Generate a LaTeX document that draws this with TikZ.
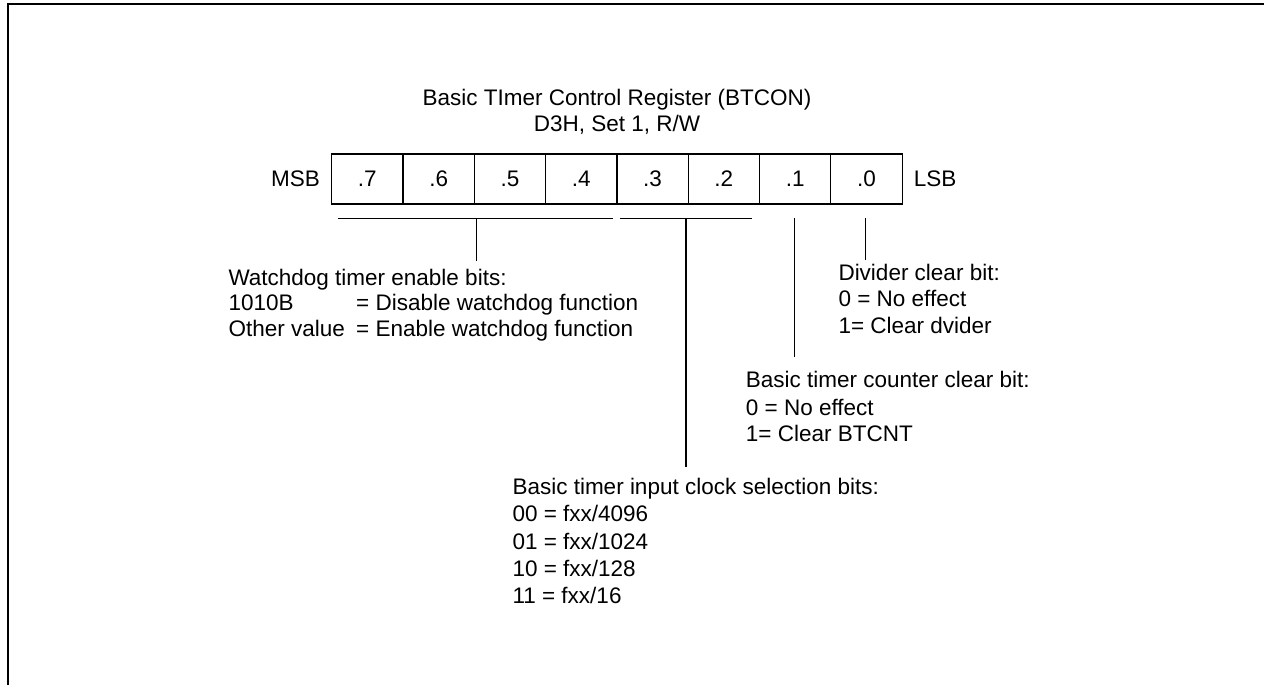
\documentclass[tikz,border=0pt]{standalone}
\usepackage{fontspec}
\setmainfont{Liberation Sans}
\newcommand\regfs{\fontsize{22.5}{27}\selectfont}
\begin{document}
\begin{tikzpicture}[x=1pt,y=-1pt,
  lbl/.style={anchor=base west, inner sep=0pt, font=\regfs},
  ttl/.style={anchor=base, inner sep=0pt, font=\regfs},
  cell/.style={draw, line width=1.2pt, minimum width=71.3pt, minimum height=50pt, inner sep=0pt, font=\regfs},
  ln/.style={line width=1.2pt}]
\useasboundingbox (0,0) rectangle (1264,685);
% frame
\draw[line width=2pt] (1264,4) -- (8,4) -- (8,685);
% title
\node[ttl] (t1) at (617,105) {Basic TImer Control Register (BTCON)};
\node[ttl] (t2) at (617,131.7) {D3H, Set 1, R/W};
% register cells
\node[cell] (c7) at (367.35,179) {.7};
\node[cell] (c6) at (438.65,179) {.6};
\node[cell] (c5) at (509.95,179) {.5};
\node[cell] (c4) at (581.25,179) {.4};
\node[cell] (c3) at (652.55,179) {.3};
\node[cell] (c2) at (723.85,179) {.2};
\node[cell] (c1) at (795.15,179) {.1};
\node[cell] (c0) at (866.45,179) {.0};
\node[anchor=east, inner sep=0pt, font=\regfs] (msb) at ([xshift=-11pt]c7.west) {MSB};
\node[anchor=west, inner sep=0pt, font=\regfs] (lsb) at ([xshift=11pt]c0.east) {LSB};
% bar coordinates
\coordinate (b1l) at (338.3,218.3);
\coordinate (b1r) at (613.3,218.3);
\coordinate (b1m) at (476.7,218.3);
\coordinate (e1) at (476.7,261);
\coordinate (b2l) at (620,218.3);
\coordinate (b2r) at (752.3,218.3);
\coordinate (b2m) at (686,218.3);
\coordinate (e2) at (686,466.7);
\coordinate (s1) at (794.3,218.3);
\coordinate (e3) at (794.3,356.7);
\coordinate (s0) at (865.7,218.3);
\coordinate (e4) at (865.7,260);
\draw[ln] (b1l) -- (b1r);
\draw[ln] (b1m) -- (e1);
\draw[ln] (b2l) -- (b2r);
\draw[ln] (b2m) -- (e2);
\draw[ln] (s1) -- (e3);
\draw[ln] (s0) -- (e4);
% watchdog block
\node[lbl] (w1) at (228.3,285) {Watchdog timer enable bits:};
\node[lbl] (w2) at (228.3,310.7) {\makebox[127.7pt][l]{1010B}= Disable watchdog function};
\node[lbl] (w3) at (228.3,336.5) {\makebox[127.7pt][l]{Other value}= Enable watchdog function};
% divider block
\node[lbl] (d1) at (838.3,280) {Divider clear bit:};
\node[lbl] (d2) at (838.3,306.7) {0 = No effect};
\node[lbl] (d3) at (838.3,333.3) {1= Clear dvider};
% counter block
\node[lbl] (k1) at (745.7,387) {Basic timer counter clear bit:};
\node[lbl] (k2) at (745.7,415) {0 = No effect};
\node[lbl] (k3) at (745.7,441.7) {1= Clear BTCNT};
% clock block
\node[lbl] (s1t) at (512.3,494.3) {Basic timer input clock selection bits:};
\node[lbl] (s2t) at (512.3,521.7) {00 = fxx/4096};
\node[lbl] (s3t) at (512.3,549) {01 = fxx/1024};
\node[lbl] (s4t) at (512.3,576) {10 = fxx/128};
\node[lbl] (s5t) at (512.3,603.3) {11 = fxx/16};
\end{tikzpicture}
\end{document}
